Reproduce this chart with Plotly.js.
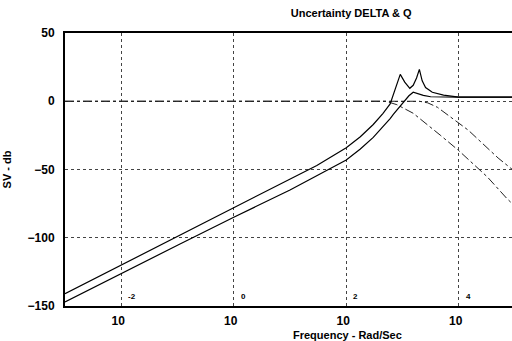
<!DOCTYPE html>
<html>
<head>
<meta charset="utf-8">
<script src="https://cdn.plot.ly/plotly-3.0.1.min.js"></script>
<style>
  html, body { margin: 0; padding: 0; background: #fff; overflow: hidden; }
  #chart { width: 520px; height: 341px; }
</style>
</head>
<body>
<div id="chart"></div>
<script>
// Singular-value bounds (dB) versus frequency (rad/s)
const freqUpper = [0.001, 0.01, 0.1, 1, 10, 30, 100, 178, 302, 447, 603, 661, 759, 912, 1096, 1349, 1549, 1778, 1995, 2239, 2570, 3388, 5370, 10000, 100000];
const svUpper   = [-141, -120, -99, -78, -57, -47, -34, -26, -17, -9, -2, 3, 11, 19.7, 14, 9.5, 11.7, 17, 23.4, 15, 10, 6.6, 4.5, 3, 3];

const freqLower = [0.001, 0.01, 0.1, 1, 10, 100, 178, 302, 447, 603, 692, 1023, 1300, 1549, 1800, 2344, 3162, 10000, 100000];
const svLower   = [-147, -126, -105.5, -85, -65, -43, -35, -26.5, -19, -12.7, -9.5, -1, 4, 6.6, 5.8, 4.3, 3.3, 3, 3];

// Weighting curves (dash-dot)
const freqDelta = [0.001, 501, 794, 1549, 4677, 9772, 32359, 70795, 100000];
const wDelta    = [0, 0, -2.5, -8.8, -24.8, -35.8, -55.5, -71, -77];

const freqQ = [0.001, 1995, 2818, 4169, 14791, 29512, 50119, 83176, 100000];
const wQ    = [0, 0, -1.2, -4.4, -21.2, -32.8, -41.6, -48.9, -51.5];

// Axis ticks
const xTickVals = [0.01, 1, 100, 10000];
const xTickText = ['10', '10', '10', '10'];
const xTickExps = ['-2', '0', '2', '4'];
const yTickVals = [50, 0, -50, -100, -150];

const font = { family: 'Liberation Sans, Arial, sans-serif', size: 11, color: '#000', weight: 'bold' };

const traces = [
  { x: freqDelta, y: wDelta, mode: 'lines', line: { color: '#222', width: 1, dash: 'dashdot' } },
  { x: freqQ, y: wQ, mode: 'lines', line: { color: '#222', width: 1, dash: 'dashdot' } },
  { x: freqUpper, y: svUpper, mode: 'lines', line: { color: '#000', width: 1.2 } },
  { x: freqLower, y: svLower, mode: 'lines', line: { color: '#000', width: 1.2 } }
];

const expNotes = xTickVals.map((v, i) => ({
  x: Math.log10(v), y: 0, xref: 'x', yref: 'paper',
  text: xTickExps[i], showarrow: false,
  xanchor: 'left', yanchor: 'bottom', xshift: 5, yshift: 3,
  font: { family: font.family, size: 8, color: '#000', weight: 'bold' }
}));

const layout = {
  width: 520, height: 341,
  margin: { l: 65, r: 5.4, t: 33, b: 34.5 },
  paper_bgcolor: '#fff', plot_bgcolor: '#fff',
  showlegend: false,
  font: font,
  title: {
    text: 'Uncertainty DELTA &amp; Q',
    font: { family: font.family, size: 11, color: '#000', weight: 'bold' },
    xref: 'paper', x: 0.636, xanchor: 'center',
    yref: 'container', y: 0.962, yanchor: 'middle'
  },
  xaxis: {
    type: 'log', range: [-3, 5],
    tickmode: 'array', tickvals: xTickVals, ticktext: xTickText,
    ticks: '', ticklabelstandoff: 3, ticklabelshift: -3,
    showgrid: true, gridcolor: '#444', griddash: 'dot', gridwidth: 1,
    showline: true, linecolor: '#000', linewidth: 2, mirror: true,
    zeroline: false, tickfont: { family: font.family, size: 12, color: '#000', weight: 'bold' }
  },
  yaxis: {
    range: [-150, 50],
    tickmode: 'array', tickvals: yTickVals,
    ticks: '', ticklabelstandoff: 6,
    showgrid: true, gridcolor: '#444', griddash: 'dot', gridwidth: 1,
    showline: true, linecolor: '#000', linewidth: 2, mirror: true,
    zeroline: false,
    tickfont: { family: font.family, size: 12, color: '#000', weight: 'bold' },
    title: { text: 'SV - db', standoff: 14, font: { family: font.family, size: 11, color: '#000', weight: 'bold' } }
  },
  annotations: expNotes.concat([{
    xref: 'paper', yref: 'paper', x: 0.627, y: 0, yshift: -28.5,
    xanchor: 'center', yanchor: 'middle', showarrow: false,
    text: 'Frequency - Rad/Sec',
    font: { family: font.family, size: 11, color: '#000', weight: 'bold' }
  }])
};

Plotly.newPlot('chart', traces, layout, { displayModeBar: false, staticPlot: true });
</script>
</body>
</html>
